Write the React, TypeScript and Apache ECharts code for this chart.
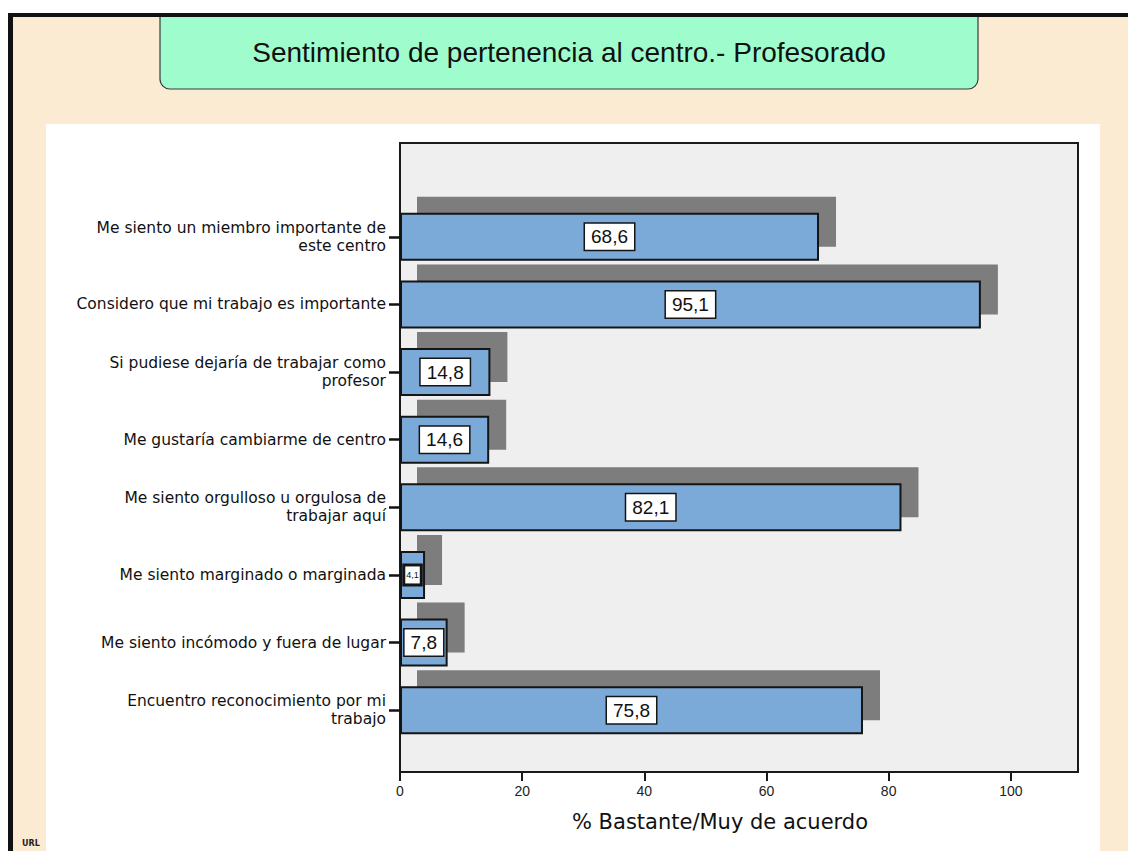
import React, { useEffect, useRef } from "react";
import * as echarts from "echarts";

const categories = [
  "Me siento un miembro importante de\neste centro",
  "Considero que mi trabajo es importante",
  "Si pudiese dejaría de trabajar como\nprofesor",
  "Me gustaría cambiarme de centro",
  "Me siento orgulloso u orgulosa de\ntrabajar aquí",
  "Me siento marginado o marginada",
  "Me siento incómodo y fuera de lugar",
  "Encuentro reconocimiento por mi\ntrabajo",
];
const values = [68.6, 95.1, 14.8, 14.6, 82.1, 4.1, 7.8, 75.8];
const xTicks = [0, 20, 40, 60, 80, 100];
const xMax = 111;
const titleText = "Sentimiento de pertenencia al centro.- Profesorado";
const xAxisTitle = "% Bastante/Muy de acuerdo";

const fmt = (v: number) => v.toFixed(1).replace(".", ",");

export default function App() {
  const ref = useRef<HTMLDivElement>(null);
  useEffect(() => {
    document.body.style.margin = "0";
    const chart = echarts.init(ref.current!, null, { renderer: "svg" });
    const BAR_H = 50;
    const SH_X = 17;
    const SH_Y = 15;
    const option: any = {
      animation: false,
      graphic: [
        { type: "rect", z: -10, shape: { x: 0, y: 0, width: 1128, height: 851 }, style: { fill: "#ffffff" } },
        { type: "rect", z: -9, shape: { x: 8, y: 13, width: 1120, height: 838 }, style: { fill: "#FCEBD3" } },
        { type: "rect", z: -8, shape: { x: 46, y: 124, width: 1054, height: 727 }, style: { fill: "#ffffff" } },
        {
          type: "rect", z: -7,
          shape: { x: 160, y: 15, width: 818, height: 74, r: [0, 0, 10, 10] },
          style: { fill: "#9FFDCD", stroke: "#3a3a3a", lineWidth: 1.2 },
        },
        { type: "rect", z: -6, shape: { x: 8, y: 13, width: 1120, height: 4 }, style: { fill: "#111111" } },
        { type: "rect", z: -6, shape: { x: 8, y: 13, width: 5, height: 838 }, style: { fill: "#111111" } },
        {
          type: "text", z: -5, x: 569, y: 52,
          style: {
            text: titleText, fill: "#111111", font: "28px 'Liberation Sans', Arial, sans-serif",
            textAlign: "center", textVerticalAlign: "middle",
          },
        },
        {
          type: "rect", z: -5,
          shape: { x: 400, y: 143, width: 678, height: 629 },
          style: { fill: "#EFEFEF", stroke: "#1a1a1a", lineWidth: 2 },
        },
        {
          type: "text", z: 5, x: 720, y: 822,
          style: {
            text: xAxisTitle, fill: "#111111", font: "21px 'DejaVu Sans', sans-serif",
            textAlign: "center", textVerticalAlign: "middle",
          },
        },
        {
          type: "text", z: 5, x: 22, y: 843,
          style: {
            text: "URL", fill: "#222222", font: "bold 8px 'DejaVu Sans', sans-serif",
            textAlign: "left", textVerticalAlign: "middle",
          },
        },
      ],
      grid: [
        { left: 400, top: 203, width: 678, height: 541 },
        { left: 400, top: 143, width: 678, height: 629 },
      ],
      xAxis: [
        { type: "value", gridIndex: 0, min: 0, max: xMax, show: false, splitLine: { show: false } },
        {
          type: "value", gridIndex: 1, min: 0, max: xMax, interval: 20,
          splitLine: { show: false },
          axisLine: { show: true, lineStyle: { color: "#1a1a1a", width: 2 } },
          axisTick: { show: true, length: 9, lineStyle: { color: "#1a1a1a", width: 2 }, customValues: xTicks },
          axisLabel: {
            show: true, margin: 12, color: "#222222", fontSize: 14,
            fontFamily: "'Liberation Sans', Arial, sans-serif", customValues: xTicks,
          },
        },
      ],
      yAxis: [
        {
          type: "category", gridIndex: 0, data: categories, inverse: true,
          axisLine: { show: false },
          axisTick: { show: true, length: 11, alignWithLabel: true, lineStyle: { color: "#111111", width: 2.5 } },
          axisLabel: {
            show: true, margin: 14, color: "#111111", fontSize: 15.5, lineHeight: 18,
            fontFamily: "'DejaVu Sans', sans-serif", align: "right", interval: 0,
          },
          splitLine: { show: false },
        },
        { type: "value", gridIndex: 1, min: 0, max: 1, show: false, splitLine: { show: false } },
      ],
      series: [
        {
          type: "custom",
          xAxisIndex: 0,
          yAxisIndex: 0,
          encode: { x: 0, y: 1 },
          data: values.map((v, i) => [v, i]),
          renderItem: (params: any, api: any) => {
            const v = api.value(0);
            const idx = api.value(1);
            const p0 = api.coord([0, idx]);
            const p1 = api.coord([v, idx]);
            return {
              type: "rect",
              shape: { x: p0[0] + SH_X, y: p0[1] - BAR_H / 2 - SH_Y, width: p1[0] - p0[0], height: BAR_H },
              style: { fill: "#7D7D7D" },
            };
          },
          silent: true,
          z: 1,
        },
        {
          type: "bar",
          xAxisIndex: 0,
          yAxisIndex: 0,
          barWidth: BAR_H - 2,
          z: 3,
          itemStyle: { color: "#7BAAD9", borderColor: "#151515", borderWidth: 2 },
          label: {
            show: true,
            position: "inside",
            formatter: (p: any) => fmt(p.value),
            backgroundColor: "#ffffff",
            borderColor: "#151515",
            borderWidth: 1.5,
            padding: [3, 6, 2, 6],
            color: "#111111",
            fontSize: 19,
            lineHeight: 21,
            fontFamily: "'Liberation Sans', Arial, sans-serif",
          },
          data: values.map((v) =>
            v < 5
              ? {
                  value: v,
                  label: { fontSize: 9, lineHeight: 11, padding: [3, 1, 3, 1], borderWidth: 3 },
                }
              : v
          ),
        },
      ],
    };
    chart.setOption(option);
    return () => chart.dispose();
  }, []);
  return <div ref={ref} style={{ width: 1128, height: 851 }} />;
}
